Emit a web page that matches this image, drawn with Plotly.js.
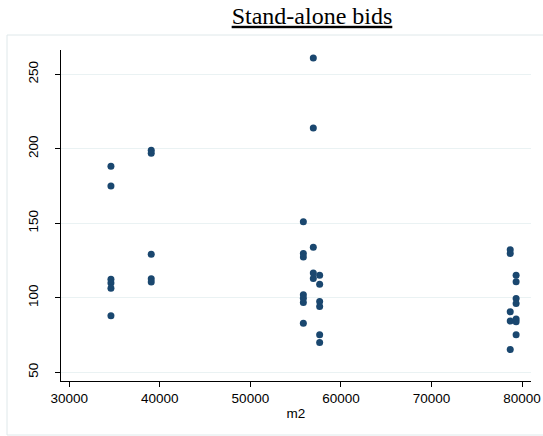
<!DOCTYPE html>
<html>
<head>
<meta charset="utf-8">
<script src="https://cdn.plot.ly/plotly-3.0.1.min.js"></script>
<style>html,body{margin:0;padding:0;background:#fff;}#chart{width:543px;height:436px;}</style>
</head>
<body>
<div id="chart"></div>
<script>
// Data
const m2 = [
  34600, 34600, 34600, 34600, 34600, 34600,
  39050, 39050, 39050, 39050, 39050,
  55850, 55850, 55850, 55850, 55850, 55850, 55850,
  56950, 56950, 56950, 56950, 56950,
  57650, 57650, 57650, 57650, 57650, 57650,
  78700, 78700, 78700, 78700, 78700,
  79350, 79350, 79350, 79350, 79350, 79350, 79350
];
const bids = [
  188.3, 175.0, 112.4, 110.0, 106.5, 88.0,
  199.0, 197.0, 129.2, 112.8, 110.6,
  151.1, 129.8, 127.4, 102.0, 99.7, 96.8, 82.9,
  261.0, 214.0, 134.0, 116.7, 113.0,
  115.2, 109.2, 97.6, 94.2, 75.3, 70.0,
  132.3, 129.8, 90.6, 84.4, 65.3,
  115.2, 110.8, 99.5, 96.2, 85.8, 83.9, 75.2
];
const xTicks = [30000, 40000, 50000, 60000, 70000, 80000];
const yTicks = [50, 100, 150, 200, 250];
const chartTitle = 'Stand-alone bids';
const xTitle = 'm2';

const trace = {
  x: m2, y: bids, type: 'scatter', mode: 'markers',
  marker: {color: '#1a476f', size: 7, line: {width: 0}},
  hoverinfo: 'x+y'
};

const layout = {
  width: 543, height: 436,
  margin: {l: 61, r: 12, t: 50, b: 55, pad: 0},
  paper_bgcolor: '#ffffff', plot_bgcolor: '#ffffff',
  showlegend: false,
  font: {family: 'Liberation Sans, Arial, sans-serif', size: 13, color: '#000'},
  title: {
    text: '<u>' + chartTitle + '</u>',
    font: {family: 'Liberation Serif, Times New Roman, serif', size: 24, color: '#000'},
    x: 0.534, xref: 'paper', xanchor: 'center',
    y: 429/436, yref: 'container', yanchor: 'top'
  },
  xaxis: {
    range: [29084, 80993],
    tickmode: 'array', tickvals: xTicks, ticktext: xTicks.map(String),
    ticks: 'outside', ticklen: 5, tickwidth: 1, tickcolor: '#000',
    showline: true, linecolor: '#000', linewidth: 1,
    showgrid: false, zeroline: false,
    tickfont: {size: 13.5, color: '#000'},
    title: {text: xTitle, font: {size: 13.5, color: '#000'}, standoff: 3}
  },
  yaxis: {
    range: [44.2, 266.3],
    tickmode: 'array', tickvals: yTicks, ticktext: yTicks.map(String),
    ticks: 'outside', ticklen: 5, tickwidth: 1, tickcolor: '#000',
    tickangle: -90, ticklabelstandoff: 12,
    showline: true, linecolor: '#000', linewidth: 1,
    showgrid: true, gridcolor: '#eaf2f3', gridwidth: 1,
    zeroline: false,
    tickfont: {size: 13.5, color: '#000'}
  },
  shapes: [{
    type: 'rect', xref: 'paper', yref: 'paper',
    x0: (7 - 61) / 470, x1: (545 - 61) / 470,
    y0: (381 - 435) / 331, y1: (381 - 35) / 331,
    line: {color: '#dfe8ea', width: 1}, fillcolor: 'rgba(0,0,0,0)', layer: 'below'
  }]
};

Plotly.newPlot('chart', [trace], layout, {staticPlot: true, displayModeBar: false});
</script>
</body>
</html>
